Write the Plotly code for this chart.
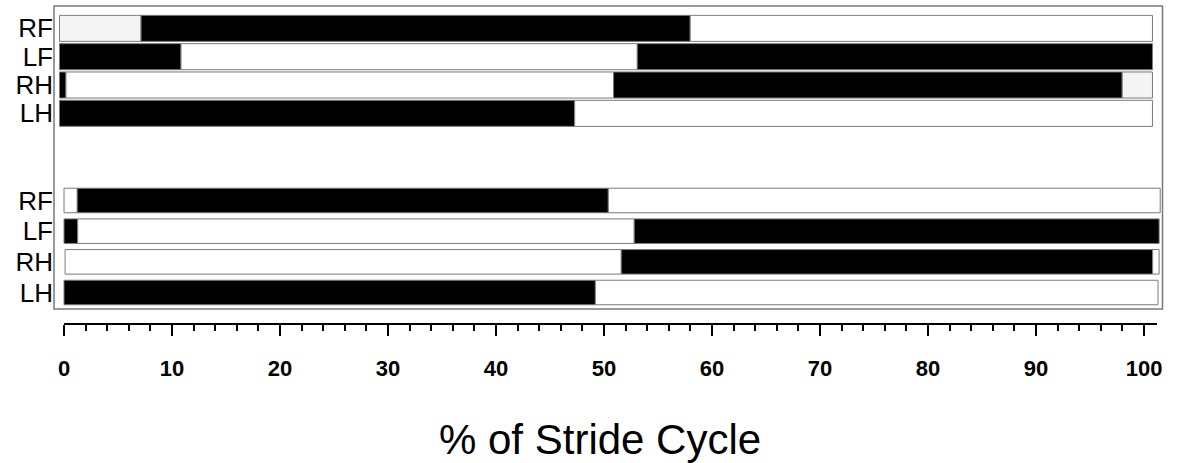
import plotly.graph_objects as go

W, H = 1178, 463

limbs = ["RF", "LF", "RH", "LH"]
phase_colors = {"stance": "#000000", "swing": "#ffffff", "none": "#f4f4f4"}

# top trial: phase boundaries (% stride) and phase of each segment
top_bounds = [[0, 7.55, 58.4, 101.2],
              [0, 11.25, 53.5, 101.2],
              [0, 0.6, 51.3, 98.4, 101.2],
              [0, 47.7, 101.2]]
top_phases = [["none", "stance", "swing"],
              ["stance", "swing", "stance"],
              ["stance", "swing", "stance", "none"],
              ["stance", "swing"]]

# bottom trial
bot_bounds = [[0, 1.23, 50.4, 101.5],
              [0, 1.27, 52.8, 101.4],
              [0.1, 51.6, 100.8, 101.4],
              [0, 49.2, 101.3]]
bot_phases = [["swing", "stance", "swing"],
              ["stance", "swing", "stance"],
              ["swing", "stance", "swing"],
              ["stance", "swing"]]

x_axis_range = [0, 101.2]
x_ticks_major = 10
x_ticks_minor = 2
x_title = "% of Stride Cycle"

fig = go.Figure()
row_idx = list(range(len(limbs)))


def add_group(bounds, phases, xa, ya, width):
    for r, b, ph in zip(row_idx, bounds, phases):
        for i, p in enumerate(ph):
            fig.add_trace(go.Bar(
                y=[r], x=[b[i + 1] - b[i]], base=[b[i]], orientation="h",
                width=width,
                marker=dict(color=phase_colors[p], line=dict(color="#7a7a7a", width=1)),
                xaxis=xa, yaxis=ya, showlegend=False, hoverinfo="skip"))


add_group(top_bounds, top_phases, "x2", "y2", 0.92)
add_group(bot_bounds, bot_phases, "x", "y", 0.80)

# invisible helper so the scale axis gets drawn
fig.add_trace(go.Scatter(x=x_axis_range, y=[0, 0], mode="markers",
                         marker=dict(opacity=0), xaxis="x3", yaxis="y3",
                         showlegend=False, hoverinfo="skip"))

px_per_unit = 10.8
box_l, box_r = 54, 1163
zero_bot, zero_top = 64, 59.5

lab_font = dict(family="Liberation Sans, Arial, sans-serif", size=26, color="#000")
yax_common = dict(tickmode="array", tickvals=row_idx, ticktext=limbs, range=[3.5, -0.5],
                  showgrid=False, zeroline=False, showline=False, ticks="",
                  tickfont=lab_font, ticklabelstandoff=0, automargin=False)

fig.update_layout(
    width=W, height=H, margin=dict(l=0, r=0, t=0, b=0, autoexpand=False),
    paper_bgcolor="white", plot_bgcolor="rgba(0,0,0,0)",
    barmode="overlay", showlegend=False,
    xaxis=dict(domain=[box_l / W, box_r / W],
               range=[(box_l - zero_bot) / px_per_unit, (box_r - zero_bot) / px_per_unit],
               visible=False, anchor="y", automargin=False),
    yaxis=dict(domain=[1 - 307.85 / H, 1 - 185.15 / H], anchor="x", **yax_common),
    xaxis2=dict(domain=[box_l / W, box_r / W],
                range=[(box_l - zero_top) / px_per_unit, (box_r - zero_top) / px_per_unit],
                visible=False, anchor="y2", automargin=False),
    yaxis2=dict(domain=[1 - 127.5 / H, 1 - 14.2 / H], anchor="x2", **yax_common),
    xaxis3=dict(domain=[64 / W, 1157 / W], range=x_axis_range, anchor="y3",
                showline=True, linecolor="#000", linewidth=2,
                ticks="outside", ticklen=11, tickwidth=2, tickcolor="#000",
                dtick=x_ticks_major, tick0=0, showgrid=False, zeroline=False,
                minor=dict(dtick=x_ticks_minor, ticks="outside", ticklen=6,
                           tickwidth=2, tickcolor="#000", showgrid=False),
                tickfont=dict(family="Liberation Sans, Arial, sans-serif", size=22,
                              color="#000", weight="bold"),
                ticklabelstandoff=14, automargin=False),
    yaxis3=dict(domain=[1 - 323 / H, 1 - 318 / H], anchor="x3", visible=False,
                range=[0, 1], automargin=False),
)

fig.add_shape(type="rect", xref="paper", yref="paper",
              x0=box_l / W, x1=1162.5 / W, y0=1 - 309 / H, y1=1 - 6 / H,
              line=dict(color="#7a7a7a", width=1.5), fillcolor="rgba(0,0,0,0)", layer="above")

fig.add_annotation(text=x_title, xref="paper", yref="paper",
                   x=600 / W, y=1 - 439 / H, xanchor="center", yanchor="middle",
                   showarrow=False,
                   font=dict(family="Liberation Sans, Arial, sans-serif", size=42, color="#000"))

fig.write_html("out.html")
